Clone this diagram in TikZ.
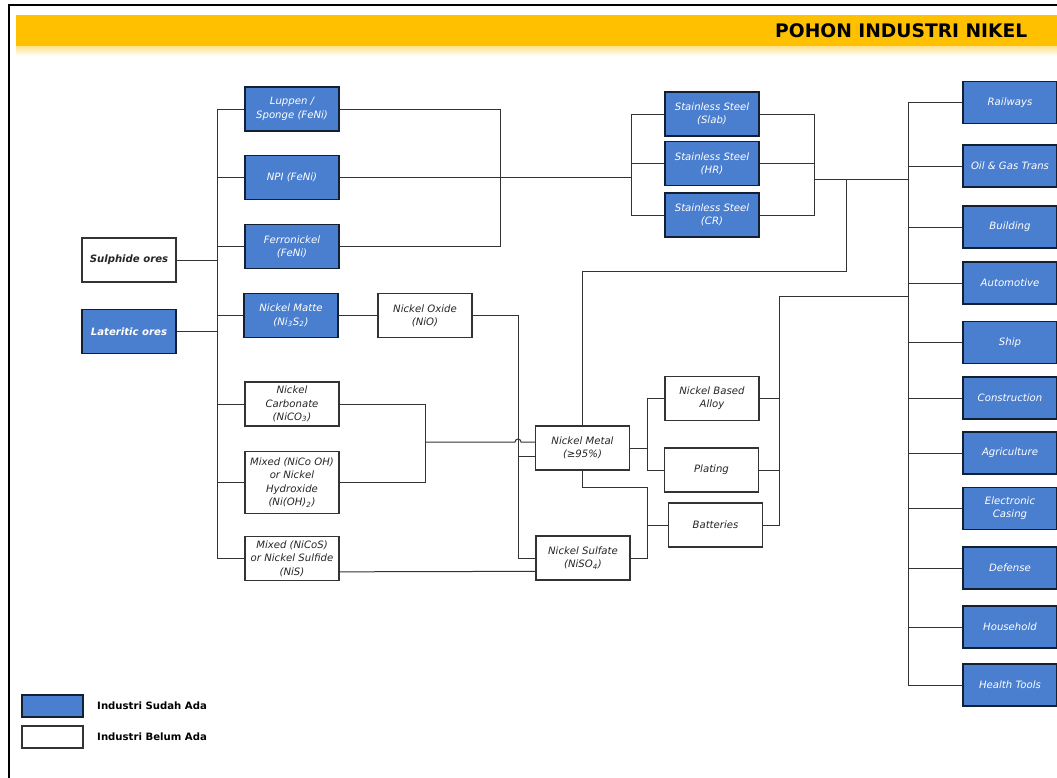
\documentclass[tikz,border=0pt]{standalone}
\usepackage{fontspec}
\setmainfont{DejaVu Sans}
\usepackage{tikz}
\usetikzlibrary{calc}
\usepackage{xcolor}
\definecolor{nikelblue}{HTML}{4A7ECE}
\definecolor{barkuning}{HTML}{FFC000}
\definecolor{garis}{HTML}{333333}
\tikzset{
  box/.style={draw=garis, line width=0.8pt, minimum width=70.5pt, minimum height=33pt,
    inner sep=1pt, align=center, font=\fontsize{7.6}{10}\selectfont\itshape},
  ada/.style={box, fill=nikelblue, draw=black!75!nikelblue, text=white},
  belum/.style={box, fill=white, text=black!85},
  tebal/.style={font=\fontsize{7.6}{10}\selectfont\bfseries\itshape},
  link/.style={draw=garis, line width=0.75pt},
}

\begin{document}
\begin{tikzpicture}[x=0.75pt, y=-0.75pt]
  \useasboundingbox (0,0) rectangle (1057,778);
  % frame and title bar
  \draw[line width=1.2pt] (9,778) -- (9,5) -- (1057,5);
  \fill[barkuning] (16,15) rectangle (1057,46);
  \shade[top color=barkuning!45, bottom color=white] (16,46) rectangle (1057,56);
  \node[anchor=east, font=\fontsize{14}{16}\selectfont\bfseries] (judul) at (1032,31) {POHON INDUSTRI NIKEL};

  % ores
  \node[belum, tebal] (sulfida) at (129,260) {Sulphide ores};
  \node[ada, tebal] (laterit) at (129,331.5) {Lateritic ores};

  % first products
  \node[ada] (luppen) at (292,109) {Luppen /\\Sponge (FeNi)};
  \node[ada] (npi) at (292,177.5) {NPI (FeNi)};
  \node[ada] (ferro) at (292,246.5) {Ferronickel\\(FeNi)};
  \node[ada] (matte) at (291,315.5) {Nickel Matte\\(Ni\textsubscript{3}S\textsubscript{2})};
  \node[belum] (karbonat) at (292,404) {Nickel\\Carbonate\\(NiCO\textsubscript{3})};
  \node[belum, minimum height=47pt] (hidroksida) at (292,482.5) {Mixed (NiCo OH)\\or Nickel\\Hydroxide\\(Ni(OH)\textsubscript{2})};
  \node[belum] (sulfida2) at (292,558.5) {Mixed (NiCoS)\\or Nickel Sulfide\\(NiS)};
  \node[belum] (oksida) at (425,315.5) {Nickel Oxide\\(NiO)};
  \node[belum] (logam) at (582.5,448) {Nickel Metal\\(≥95\%)};
  \node[belum] (sulfat) at (583,558) {Nickel Sulfate\\(NiSO\textsubscript{4})};
  \node[belum] (paduan) at (712,398.5) {Nickel Based\\Alloy};
  \node[belum] (plating) at (711.5,470) {Plating};
  \node[belum] (baterai) at (715.5,525) {Batteries};
  \node[ada] (slab) at (712,114) {Stainless Steel\\(Slab)};
  \node[ada] (hr) at (712,163.5) {Stainless Steel\\(HR)};
  \node[ada] (cr) at (712,215) {Stainless Steel\\(CR)};

  % ore bus
  \coordinate (busBijih) at (217,108);
  \draw[link] (luppen.west) -- (luppen.west -| busBijih) -- (sulfida2.west -| busBijih) -- (sulfida2.west);
  \foreach \n in {npi,ferro,matte,karbonat,hidroksida}
    \draw[link] (\n.west) -- (\n.west -| busBijih);
  \foreach \n in {sulfida,laterit}
    \draw[link] (\n.east) -- (\n.east -| busBijih);

  % FeNi to stainless steel
  \coordinate (gabungFe) at (500,0);
  \draw[link] (luppen.east) -- (luppen.east -| gabungFe) -- (ferro.east -| gabungFe) -- (ferro.east);
  \coordinate (busSSkiri) at (631,0);
  \draw[link] (npi.east) -- (npi.east -| busSSkiri);
  \draw[link] (slab.west) -- (slab.west -| busSSkiri) -- (cr.west -| busSSkiri) -- (cr.west);
  \draw[link] (hr.west) -- (hr.west -| busSSkiri);
  \coordinate (busSSkanan) at (814,179);
  \draw[link] (slab.east) -- (slab.east -| busSSkanan) -- (cr.east -| busSSkanan) -- (cr.east);
  \draw[link] (hr.east) -- (hr.east -| busSSkanan);
  \coordinate (busApp) at (908,179);
  \draw[link] (busSSkanan) -- (busApp);
  \coordinate (belokLogam) at (846,271);
  \draw[link] (logam.north) |- (belokLogam) -- (belokLogam |- busApp);

  % matte, oxide, sulfate
  \draw[link] (matte.east) -- (oksida.west);
  \coordinate (turunOksida) at (518,0);
  \draw[link] (oksida.east) -- (oksida.east -| turunOksida) -- (sulfat.west -| turunOksida) -- (sulfat.west);
  \draw[link] ([yshift=-6pt]logam.west) -- ([yshift=-6pt]logam.west -| turunOksida);
  \coordinate (gabungCH) at (425,442);
  \draw[link] (karbonat.east) -- (karbonat.east -| gabungCH) -- (hidroksida.east -| gabungCH) -- (hidroksida.east);
  \draw[link] (gabungCH) -- ([xshift=-2.25pt]gabungCH -| turunOksida)
    arc[start angle=180, end angle=0, radius=2.25pt] -- ([yshift=4.5pt]logam.west);
  \draw[link] ([yshift=-10pt]sulfida2.east) -- ([yshift=-10pt]sulfat.west);

  % nickel metal to uses
  \coordinate (cabangLogam) at (647,0);
  \draw[link] (paduan.west) -- (paduan.west -| cabangLogam) -- (plating.west -| cabangLogam) -- (plating.west);
  \draw[link] (logam.east) -- (logam.east -| cabangLogam);
  \coordinate (bawahLogam) at (647,487);
  \draw[link] (logam.south) |- (bawahLogam) -- (bawahLogam |- sulfat.east) -- (sulfat.east);
  \draw[link] (baterai.west) -- (baterai.west -| bawahLogam);
  \coordinate (busPakai) at (779,296);
  \draw[link] (busPakai) -- (busPakai |- baterai.east) -- (baterai.east);
  \draw[link] (paduan.east) -- (paduan.east -| busPakai);
  \draw[link] (plating.east) -- (plating.east -| busPakai);
  \draw[link] (busPakai) -- (busPakai -| busApp);

  % end users
  \foreach \nm/\cy/\txt in {rel/102.5/Railways, migas/166/Oil \& Gas Trans, gedung/227/Building,
      otomotif/283/Automotive, kapal/342.5/Ship, konstruksi/398/Construction,
      pertanian/453/Agriculture, elektronik/508.5/{Electronic\\Casing}, pertahanan/568/Defense,
      rumah/627/Household, kesehatan/685/Health Tools}{
    \node[ada, minimum height=31.5pt] (\nm) at (1010,\cy) {\txt};
    \draw[link] (\nm.west) -- (\nm.west -| busApp);
  }
  \draw[link] (rel.west -| busApp) -- (kesehatan.west -| busApp);

  % legend
  \node[ada, minimum width=45.75pt, minimum height=16.5pt] (ketAda) at (52.5,706) {};
  \node[belum, minimum width=45.75pt, minimum height=16.5pt] (ketBelum) at (52.5,737) {};
  \node[anchor=west, font=\fontsize{7.6}{9}\selectfont\bfseries] (teksAda) at ([xshift=6.75pt]ketAda.east) {Industri Sudah Ada};
  \node[anchor=west, font=\fontsize{7.6}{9}\selectfont\bfseries] (teksBelum) at ([xshift=6.75pt]ketBelum.east) {Industri Belum Ada};
\end{tikzpicture}
\end{document}
